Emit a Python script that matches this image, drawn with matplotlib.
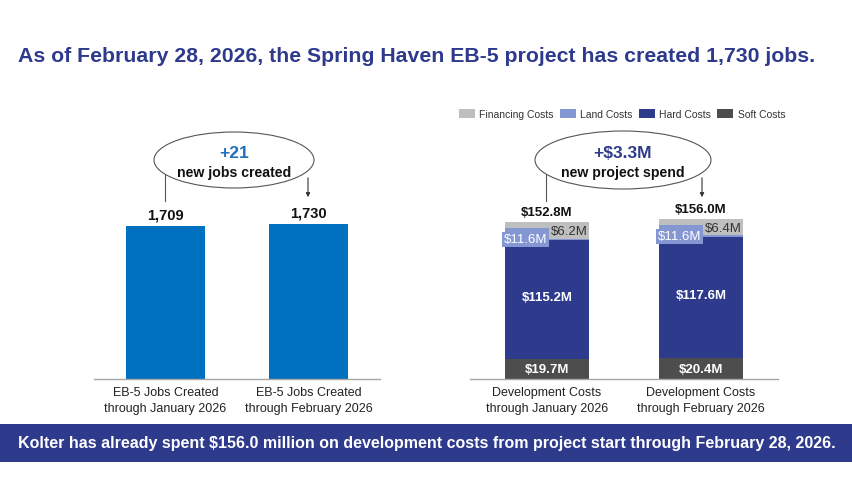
import matplotlib.pyplot as plt
from matplotlib.patches import Ellipse, Patch, FancyArrowPatch, Rectangle
from matplotlib.lines import Line2D

plt.rcParams['font.family'] = ['Liberation Sans', 'DejaVu Sans']

# data
jobs_periods = ["EB-5 Jobs Created\nthrough January 2026",
                "EB-5 Jobs Created\nthrough February 2026"]
jobs = [1709, 1730]
jobs_delta = "+21"

cost_periods = ["Development Costs\nthrough January 2026",
                "Development Costs\nthrough February 2026"]
soft = [19.7, 20.4]
hard = [115.2, 117.6]
land = [11.6, 11.6]
financing = [6.2, 6.4]
totals = [152.8, 156.0]
cost_delta = "+$3.3M"

NAVY = "#2E3A8C"
BLUE = "#0070C0"
C_FIN = "#BFBFBF"
C_LAND = "#8497D3"
C_HARD = "#2E3A8C"
C_SOFT = "#4D4D4D"

W, H = 852, 502
fig = plt.figure(figsize=(W / 100, H / 100), dpi=100)


def px(x, y):
    return x / W, 1 - y / H


# --- left: jobs ---
ax1 = fig.add_axes([94 / W, (H - 380) / H, 286 / W, 260 / H])
xs = [0, 1]
ax1.bar(xs, jobs, width=0.55, color=BLUE)
ax1.set_xlim(-0.5, 1.5)
ax1.set_ylim(0, 2904)
for x, v in zip(xs, jobs):
    ax1.annotate(f"{v:,}", (x, v), xytext=(0, 3), textcoords="offset points",
                 ha="center", va="bottom", fontsize=10.5, fontweight="bold", color="#111")

# --- right: costs ---
ax2 = fig.add_axes([470 / W, (H - 380) / H, 308 / W, 260 / H])
b1 = soft
b2 = [a + b for a, b in zip(soft, hard)]
b3 = [a + b for a, b in zip(b2, land)]
ax2.bar(xs, soft, width=0.55, color=C_SOFT, label="Soft Costs")
ax2.bar(xs, hard, width=0.55, bottom=b1, color=C_HARD, label="Hard Costs")
ax2.bar(xs, land, width=0.55, bottom=b2, color=C_LAND, label="Land Costs")
ax2.bar(xs, financing, width=0.55, bottom=b3, color=C_FIN, label="Financing Costs")
ax2.set_xlim(-0.5, 1.5)
ax2.set_ylim(0, 253)

for i, x in enumerate(xs):
    ax2.text(x, soft[i] / 2, f"${soft[i]:.1f}M", ha="center", va="center",
             color="white", fontsize=9.5, fontweight="bold")
    ax2.text(x, soft[i] + hard[i] * 0.52, f"${hard[i]:.1f}M", ha="center", va="center",
             color="white", fontsize=9.5, fontweight="bold")
    ax2.text(x - 0.28, b2[i] + 1.0, f"${land[i]:.1f}M", ha="left", va="center",
             color="white", fontsize=9.5,
             bbox=dict(boxstyle="square,pad=0.12", fc=C_LAND, ec="none"))
    ax2.text(x + 0.265, b3[i] - 2.5, f"${financing[i]:.1f}M", ha="right", va="center",
             color="#333", fontsize=9.5,
             bbox=dict(boxstyle="square,pad=0.12", fc=C_FIN, ec="none"))
    ax2.annotate(f"${totals[i]:.1f}M", (x, totals[i]), xytext=(0, 3),
                 textcoords="offset points", ha="center", va="bottom",
                 fontsize=9.5, fontweight="bold", color="#111")

for ax, labels in [(ax1, jobs_periods), (ax2, cost_periods)]:
    ax.set_xticks(xs)
    ax.set_xticklabels(labels, fontsize=9, color="#222", linespacing=1.5)
    ax.tick_params(axis="x", length=0, pad=5)
    ax.set_yticks([])
    for s in ["top", "right", "left"]:
        ax.spines[s].set_visible(False)
    ax.spines["bottom"].set_color("#A6A6A6")
    ax.spines["bottom"].set_linewidth(1)
    ax.patch.set_alpha(0)

# legend
order = ["Financing Costs", "Land Costs", "Hard Costs", "Soft Costs"]
cols = [C_FIN, C_LAND, C_HARD, C_SOFT]
handles = [Patch(facecolor=c, edgecolor="none", label=l) for c, l in zip(cols, order)]
fig.legend(handles=handles, loc="center", bbox_to_anchor=px(622, 115), ncol=4,
           frameon=False, fontsize=7.5, handlelength=1.55, handleheight=1.05,
           handletextpad=0.4, columnspacing=0.6, labelcolor="#333")

# callout ellipses
callouts = [
    (234, 161, 160, 56, jobs_delta, "#1F6FBF", "new jobs created", 165, 308),
    (623, 161, 176, 58, cost_delta, NAVY, "new project spend", 546, 702),
]
for cx, cy, ew, eh, big, bigc, small, lx, rx in callouts:
    fig.add_artist(Ellipse(px(cx, cy), ew / W, eh / H, transform=fig.transFigure,
                           fc="white", ec="#555", lw=0.8))
    fig.text(*px(cx, cy - 7), big, ha="center", va="center", fontsize=12.5,
             fontweight="bold", color=bigc)
    fig.text(*px(cx, cy + 12), small, ha="center", va="center", fontsize=10.2,
             fontweight="bold", color="#111")
    fig.add_artist(Line2D([lx / W, lx / W], [1 - 176 / H, 1 - 202 / H],
                          transform=fig.transFigure, color="#555", lw=0.8))
    fig.add_artist(FancyArrowPatch(px(rx, 176), px(rx, 201), transform=fig.transFigure,
                                   arrowstyle="-|>", mutation_scale=6, color="#333", lw=0.8))

# title
fig.text(*px(417, 57), "As of February 28, 2026, the Spring Haven EB-5 project has created 1,730 jobs.",
         ha="center", va="center", fontsize=15.3, fontweight="bold", color=NAVY)

# bottom banner
fig.add_artist(Rectangle(px(0, 463), 1, 38 / H, transform=fig.transFigure,
                         fc=NAVY, ec="none"))
fig.text(*px(427, 444),
         "Kolter has already spent $156.0 million on development costs from project start through February 28, 2026.",
         ha="center", va="center", fontsize=11.5, fontweight="bold", color="white")

fig.savefig("out.png", dpi=100)
